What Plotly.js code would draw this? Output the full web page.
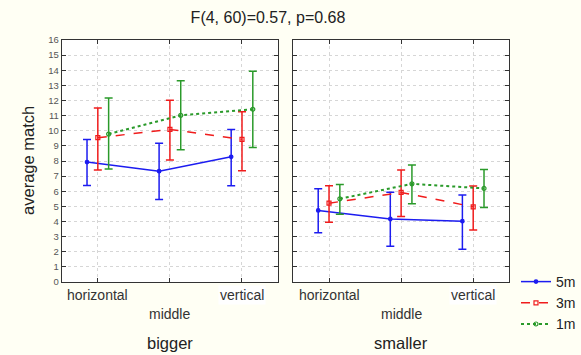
<!DOCTYPE html>
<html>
<head>
<meta charset="utf-8">
<script src="https://cdn.plot.ly/plotly-3.0.1.min.js"></script>
<style>html,body{margin:0;padding:0;background:#fffff4;}#chart{width:581px;height:355px;}</style>
</head>
<body>
<div id="chart"></div>
<script>
// ---- data ----
const categories = ["horizontal", "middle", "vertical"];
const panels = ["bigger", "smaller"];
const seriesNames = ["5m", "3m", "1m"];
const chartTitle = "F(4, 60)=0.57, p=0.68";
const yTitle = "average match";

// bigger panel: means, upper and lower error limits
const bigger5mMean = [7.93, 7.33, 8.28];
const bigger5mUpper = [9.43, 9.17, 10.09];
const bigger5mLower = [6.38, 5.46, 6.36];
const bigger3mMean = [9.54, 10.09, 9.43];
const bigger3mUpper = [11.5, 12.01, 11.26];
const bigger3mLower = [7.40, 8.06, 7.35];
const bigger1mMean = [9.78, 11.02, 11.42];
const bigger1mUpper = [12.17, 13.31, 13.93];
const bigger1mLower = [7.48, 8.74, 8.90];

// smaller panel
const smaller5mMean = [4.73, 4.17, 4.02];
const smaller5mUpper = [6.16, 5.94, 5.76];
const smaller5mLower = [3.25, 2.36, 2.17];
const smaller3mMean = [5.21, 5.92, 4.97];
const smaller3mUpper = [6.36, 7.40, 6.34];
const smaller3mLower = [3.95, 4.33, 3.44];
const smaller1mMean = [5.50, 6.49, 6.19];
const smaller1mUpper = [6.45, 7.73, 7.44];
const smaller1mLower = [4.48, 5.17, 4.93];

// ---- styles ----
const offsets = [-0.15, 0, 0.15];
const styles = [
  {color: "#1c1cf0", dash: "solid", width: 1.5, symbol: "circle", msize: 3.5},
  {color: "#f01c1c", dash: "dash", width: 1.5, symbol: "square-open", msize: 4},
  {color: "#2a9a2a", dash: "dot", width: 2, symbol: "circle-open", msize: 4}
];
const FONT = "Liberation Sans, Arial, sans-serif";

const data = {
  bigger: [[bigger5mMean, bigger5mUpper, bigger5mLower], [bigger3mMean, bigger3mUpper, bigger3mLower], [bigger1mMean, bigger1mUpper, bigger1mLower]],
  smaller: [[smaller5mMean, smaller5mUpper, smaller5mLower], [smaller3mMean, smaller3mUpper, smaller3mLower], [smaller1mMean, smaller1mUpper, smaller1mLower]]
};

const traces = [];
panels.forEach((p, pi) => {
  seriesNames.forEach((s, si) => {
    const [m, up, lo] = data[p][si];
    const st = styles[si];
    traces.push({
      type: "scatter", mode: "lines+markers",
      name: s, showlegend: pi === 0, legendgroup: s,
      x: categories.map((c, i) => i + offsets[si]),
      y: m,
      xaxis: pi === 0 ? "x" : "x2", yaxis: pi === 0 ? "y" : "y2",
      line: {color: st.color, dash: st.dash, width: st.width},
      marker: {color: st.color, symbol: st.symbol, size: st.msize, line: {color: st.color, width: 1.2}},
      error_y: {type: "data", symmetric: false,
        array: up.map((v, i) => v - m[i]), arrayminus: lo.map((v, i) => m[i] - v),
        color: st.color, thickness: 1.5, width: 4}
    });
  });
});

const xBase = {range: [-0.5, 2.5], tickvals: [0, 1, 2], showticklabels: false, ticks: "inside", ticklen: 4,
  tickcolor: "#333", showline: true, linecolor: "#333", linewidth: 1, mirror: "ticks",
  showgrid: true, gridcolor: "#d6d6d6", griddash: "dot", gridwidth: 1, zeroline: false, fixedrange: true};
const yBase = {range: [0, 16], dtick: 1, ticks: "inside", ticklen: 4, tickcolor: "#333",
  showline: true, linecolor: "#333", linewidth: 1, mirror: "ticks",
  showgrid: true, gridcolor: "#d6d6d6", griddash: "dot", gridwidth: 1, zeroline: false,
  tickfont: {family: FONT, size: 9.5, color: "#555"}, domain: [0.2056, 0.8873]};

const annotations = [];
["x", "x2"].forEach((xr, pi) => {
  categories.forEach((c, i) => {
    annotations.push({xref: xr, yref: "paper", x: i, y: i === 1 ? (355 - 314) / 355 : (355 - 295) / 355,
      text: c, showarrow: false, xanchor: "center", yanchor: "middle",
      bgcolor: i === 2 ? "#ffffff" : "rgba(0,0,0,0)",
      font: {family: FONT, size: 14, color: "#333"}});
  });
  annotations.push({xref: xr, yref: "paper", x: 1, y: (355 - 343) / 355, text: panels[pi], showarrow: false,
    xanchor: "center", yanchor: "middle", font: {family: FONT, size: 16.5, color: "#222"}});
});
annotations.push({xref: "paper", yref: "paper", x: 28 / 581, y: (355 - 160) / 355, text: yTitle, textangle: -90,
  showarrow: false, xanchor: "center", yanchor: "middle", font: {family: FONT, size: 16.5, color: "#222"}});

const layout = {
  width: 581, height: 355,
  margin: {l: 0, r: 0, t: 0, b: 0},
  paper_bgcolor: "#fffff4", plot_bgcolor: "#ffffff",
  title: {text: chartTitle, x: 268 / 581, xanchor: "center", y: (355 - 17) / 355, yanchor: "middle",
    font: {family: FONT, size: 16, color: "#222"}},
  xaxis: Object.assign({}, xBase, {domain: [62 / 581, 279 / 581], anchor: "y"}),
  xaxis2: Object.assign({}, xBase, {domain: [294 / 581, 511 / 581], anchor: "y2"}),
  yaxis: Object.assign({}, yBase, {anchor: "x"}),
  yaxis2: Object.assign({}, yBase, {anchor: "x2", showticklabels: false}),
  legend: {x: 518 / 581, xanchor: "left", y: (355 - 266) / 355, yanchor: "top", bgcolor: "rgba(0,0,0,0)",
    font: {family: FONT, size: 14, color: "#222"}, itemwidth: 30, tracegroupgap: 0},
  annotations: annotations,
  showlegend: true
};

Plotly.newPlot("chart", traces, layout, {staticPlot: true, displayModeBar: false});
</script>
</body>
</html>
